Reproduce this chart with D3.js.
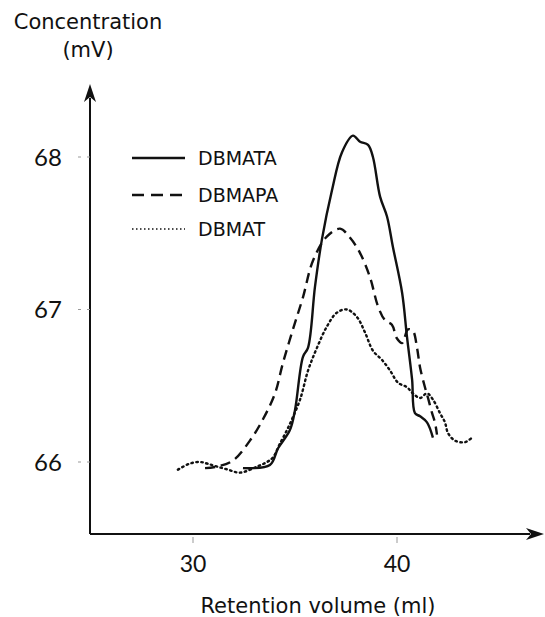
<!DOCTYPE html>
<html>
<head>
<meta charset="utf-8">
<script src="https://cdn.jsdelivr.net/npm/d3@7"></script>
<style>
  body { margin: 0; background: #fff; }
  .lbl { font-family: "DejaVu Sans", sans-serif; fill: #111; }
  .tick-lbl { font-family: Lato, "Open Sans", sans-serif; fill: #111; }
</style>
</head>
<body>
<div id="chart"></div>
<script>
const width = 545, height = 617

// series names
const seriesNames = ['DBMATA', 'DBMAPA', 'DBMAT']

// retention volume (ml) / concentration (mV)
const dbmataVol = [32.45, 33.77, 34.17, 34.75, 35.0, 35.39, 35.64, 35.98, 36.32, 36.81, 37.30, 37.84, 38.19, 38.58, 38.82, 39.17, 39.51, 39.80, 40.25, 40.49, 40.74, 40.88, 41.13, 41.47, 41.76]
const dbmataConc = [65.96, 65.98, 66.09, 66.21, 66.34, 66.69, 66.75, 67.15, 67.46, 67.78, 68.03, 68.14, 68.10, 68.08, 68.00, 67.74, 67.61, 67.41, 67.11, 66.82, 66.54, 66.32, 66.30, 66.26, 66.16]

const dbmapaVol = [30.59, 31.18, 31.96, 32.79, 33.43, 34.02, 34.41, 34.90, 35.39, 35.88, 36.57, 37.21, 37.70, 38.19, 38.68, 39.07, 39.41, 39.75, 40.0, 40.25, 40.54, 40.78, 40.98, 41.13, 41.37, 41.52, 41.72, 41.86, 41.96]
const dbmapaConc = [65.96, 65.97, 66.01, 66.14, 66.28, 66.45, 66.65, 66.87, 67.08, 67.32, 67.48, 67.53, 67.47, 67.37, 67.21, 67.02, 66.93, 66.90, 66.81, 66.78, 66.87, 66.86, 66.75, 66.62, 66.49, 66.42, 66.32, 66.26, 66.18]

const dbmatVol = [29.26, 29.85, 30.34, 30.69, 31.18, 31.72, 32.30, 33.14, 33.63, 33.92, 34.26, 34.61, 34.85, 35.25, 35.64, 36.08, 36.57, 37.06, 37.55, 38.04, 38.43, 38.82, 39.26, 39.66, 40.05, 40.49, 40.78, 41.13, 41.47, 41.76, 42.11, 42.35, 42.50, 42.84, 43.33, 43.68]
const dbmatConc = [65.95, 65.99, 66.0, 65.99, 65.97, 65.95, 65.93, 65.97, 66.0, 66.03, 66.12, 66.21, 66.28, 66.41, 66.60, 66.75, 66.89, 66.98, 67.0, 66.95, 66.85, 66.73, 66.67, 66.60, 66.52, 66.49, 66.45, 66.42, 66.45, 66.41, 66.32, 66.26, 66.19, 66.14, 66.13, 66.16]

const xTicks = [30, 40]
const yTicks = [66, 67, 68]

const dashes = ['none', '10,6', '1.5,3.5']

const zip = (xs, ys) => xs.map((x, i) => ({v: x, c: ys[i]}))
const series = [zip(dbmataVol, dbmataConc), zip(dbmapaVol, dbmapaConc), zip(dbmatVol, dbmatConc)]

const svg = d3.select('#chart').append('svg')
.attr('width', width)
.attr('height', height)

const axisX0 = 90, axisY0 = 534

let xScale = d3.scaleLinear()
.domain([30, 40])
.range([193, 397])

let yScale = d3.scaleLinear()
.domain([66, 68])
.range([462, 157])

// axes with arrows
svg.append('line')
.attr('x1', axisX0).attr('y1', axisY0)
.attr('x2', axisX0).attr('y2', 98)
.attr('stroke', '#111').attr('stroke-width', 2)

svg.append('path')
.attr('d', `M${axisX0},84 L${axisX0 - 6},102 L${axisX0},97 L${axisX0 + 6},102 Z`)
.attr('fill', '#111')

svg.append('line')
.attr('x1', axisX0).attr('y1', axisY0)
.attr('x2', 530).attr('y2', axisY0)
.attr('stroke', '#111').attr('stroke-width', 2)

svg.append('path')
.attr('d', `M544,${axisY0} L526,${axisY0 - 6} L531,${axisY0} L526,${axisY0 + 6} Z`)
.attr('fill', '#111')

// y ticks
let yt = svg.append('g')
yTicks.forEach(t => {
	yt.append('line')
	.attr('x1', axisX0 - 12).attr('x2', axisX0)
	.attr('y1', yScale(t)).attr('y2', yScale(t))
	.attr('stroke', '#999').attr('stroke-width', 1)
	.attr('stroke-dasharray', '3,6')
	yt.append('text')
	.attr('class', 'tick-lbl')
	.attr('x', 48).attr('y', yScale(t))
	.attr('dy', '0.36em')
	.attr('text-anchor', 'middle')
	.attr('font-size', 24)
	.text(t)
})

// x ticks
let xt = svg.append('g')
xTicks.forEach(t => {
	xt.append('line')
	.attr('x1', xScale(t)).attr('x2', xScale(t))
	.attr('y1', axisY0 + 3).attr('y2', axisY0 + 9)
	.attr('stroke', '#999').attr('stroke-width', 1)
	xt.append('text')
	.attr('class', 'tick-lbl')
	.attr('x', xScale(t)).attr('y', 572)
	.attr('text-anchor', 'middle')
	.attr('font-size', 23)
	.text(t)
})

// axis titles
svg.append('text').attr('class', 'lbl')
.attr('x', 88).attr('y', 29)
.attr('text-anchor', 'middle')
.attr('font-size', 21)
.text('Concentration')

svg.append('text').attr('class', 'lbl')
.attr('x', 88).attr('y', 57)
.attr('text-anchor', 'middle')
.attr('font-size', 21)
.text('(mV)')

svg.append('text').attr('class', 'lbl')
.attr('x', 318).attr('y', 613)
.attr('text-anchor', 'middle')
.attr('font-size', 21)
.text('Retention volume (ml)')

// curves
const line = d3.line()
.curve(d3.curveCatmullRom.alpha(0.5))
.x(d => xScale(d.v))
.y(d => yScale(d.c))

series.forEach((s, i) => {
	svg.append('path')
	.datum(s)
	.attr('fill', 'none')
	.attr('stroke', '#111')
	.attr('stroke-width', 2.4)
	.attr('stroke-linecap', i === 2 ? 'round' : 'butt')
	.attr('stroke-linejoin', 'round')
	.attr('stroke-dasharray', dashes[i])
	.attr('d', line)
})

// legend
const legendY = [158, 195, 229]
let legend = svg.append('g')
seriesNames.forEach((name, i) => {
	legend.append('line')
	.attr('x1', 132).attr('x2', 185)
	.attr('y1', legendY[i]).attr('y2', legendY[i])
	.attr('stroke', '#111')
	.attr('stroke-width', i === 2 ? 1.6 : 2.4)
	.attr('stroke-dasharray', i === 0 ? 'none' : (i === 1 ? '12,7' : '1.5,2.5'))
	legend.append('text').attr('class', 'lbl')
	.attr('x', 198).attr('y', legendY[i])
	.attr('dy', '0.36em')
	.attr('font-size', 19)
	.text(name)
})
</script>
</body>
</html>
